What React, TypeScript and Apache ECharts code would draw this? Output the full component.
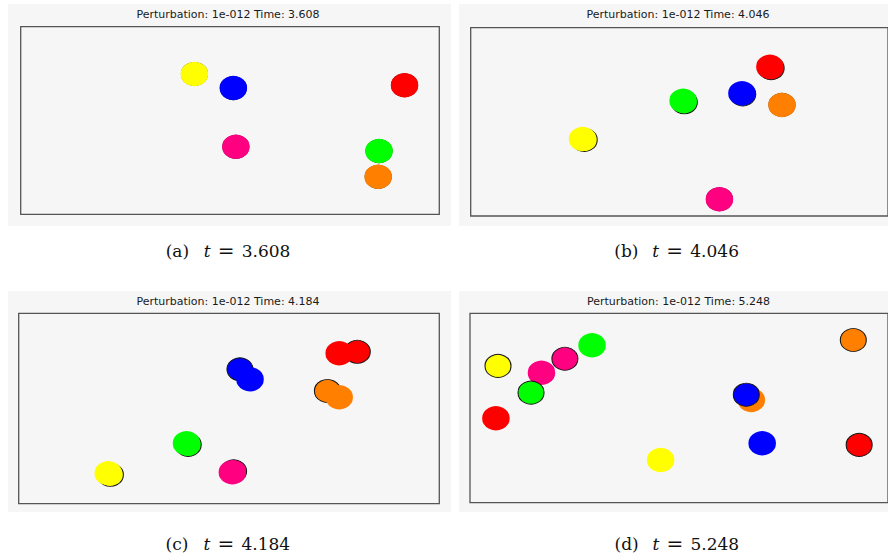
import React, { useEffect, useRef } from "react";
import * as echarts from "echarts";

// ---- data ----
const BALLS = ["red", "yellow", "magenta", "green", "orange", "blue"];
const PERTURBATION = "1e-012";
const TIMES = ["3.608", "4.046", "4.184", "5.248"];
const PANEL_LABELS = ["(a)", "(b)", "(c)", "(d)"];

// positions in box units (0..100), ball order as BALLS
const aRef = [[91.7, 68.8], [41.5, 74.8], [51.4, 36.0], [85.6, 33.7], [85.4, 20.0], [50.8, 67.3]];
const aPert = [[91.7, 68.8], [41.5, 74.8], [51.4, 36.0], [85.6, 33.7], [85.4, 20.0], [50.8, 67.3]];
const bRef = [[72.0, 78.5], [27.2, 40.4], [59.6, 8.9], [51.2, 60.4], [74.6, 59.0], [65.2, 64.6]];
const bPert = [[71.7, 79.3], [26.8, 40.9], [59.6, 8.9], [50.9, 61.2], [74.6, 59.0], [65.0, 65.2]];
const cRef = [[80.5, 79.8], [21.8, 15.2], [51.1, 17.0], [40.3, 30.9], [73.4, 59.2], [52.6, 70.6]];
const cPert = [[76.2, 79.0], [21.3, 16.0], [50.8, 16.5], [39.9, 31.7], [76.2, 55.9], [55.0, 65.3]];
const dRef = [[93.1, 30.5], [6.7, 72.2], [22.7, 76.0], [14.6, 58.1], [91.7, 85.9], [66.1, 57.0]];
const dPert = [[6.2, 44.6], [45.6, 22.5], [17.1, 68.6], [29.2, 83.1], [67.3, 54.2], [69.9, 31.4]];

const REF_RUNS = [aRef, bRef, cRef, dRef];
const PERT_RUNS = [aPert, bPert, cPert, dPert];

// ---- styles / layout ----
const BALL_COLORS: Record<string, string> = {
  red: "#ff0000",
  yellow: "#ffff00",
  magenta: "#ff0080",
  green: "#00ff00",
  orange: "#ff8000",
  blue: "#0000ff",
};
const PANEL_BG = [
  { x: 8, y: 4, w: 443, h: 222 },
  { x: 459, y: 4, w: 440, h: 222 },
  { x: 8, y: 291, w: 443, h: 221 },
  { x: 459, y: 291, w: 440, h: 221 },
];
const BOXES = [
  { left: 20.7, top: 26.7, width: 418.6, height: 187.6 },
  { left: 470.7, top: 27.7, width: 418.6, height: 188.3 },
  { left: 18.7, top: 313.3, width: 420.6, height: 190.4 },
  { left: 470, top: 313.3, width: 418.6, height: 189.4 },
];
const TITLE_POS = [
  [228, 14.5],
  [678, 14.5],
  [228, 301],
  [678.5, 301],
];
const CAPTION_POS = [
  [229.7, 251],
  [678.3, 251],
  [229.5, 543.5],
  [678.5, 543.5],
];

export default function App() {
  const ref = useRef<HTMLDivElement>(null);

  useEffect(() => {
    if (!ref.current) return;
    const chart = echarts.init(ref.current, undefined, { renderer: "svg" });

    const series: any[] = [];
    for (let p = 0; p < 4; p++) {
      BALLS.forEach((ball, i) => {
        const color = BALL_COLORS[ball];
        series.push({
          type: "scatter",
          name: `${ball} reference`,
          xAxisIndex: p,
          yAxisIndex: p,
          symbol: "circle",
          symbolSize: [26, 23],
          data: [REF_RUNS[p][i]],
          itemStyle: { color, borderColor: "#151515", borderWidth: 1, opacity: 1 },
          emphasis: { disabled: true },
        });
        series.push({
          type: "scatter",
          name: `${ball} perturbed`,
          xAxisIndex: p,
          yAxisIndex: p,
          symbol: "circle",
          symbolSize: [25, 22],
          data: [PERT_RUNS[p][i]],
          itemStyle: { color, borderColor: color, borderWidth: 2.4, opacity: 1 },
          emphasis: { disabled: true },
        });
      });
    }

    const graphic: any[] = [];
    PANEL_BG.forEach((r) => {
      graphic.push({
        type: "rect",
        z: -10,
        shape: { x: r.x, y: r.y, width: r.w, height: r.h },
        style: { fill: "#f6f6f6" },
        silent: true,
      });
    });
    TITLE_POS.forEach(([x, y], p) => {
      graphic.push({
        type: "text",
        x,
        y,
        z: 10,
        style: {
          text: `Perturbation: ${PERTURBATION} Time: ${TIMES[p]}`,
          fontFamily: "DejaVu Sans",
          fontSize: 11,
          fill: "#1a1a1a",
          align: "center",
          verticalAlign: "middle",
        },
      });
    });
    CAPTION_POS.forEach(([x, y], p) => {
      graphic.push({
        type: "text",
        x,
        y,
        z: 10,
        style: {
          text: `{lab|${PANEL_LABELS[p]}}{it|t}{eq|=}{num|${TIMES[p]}}`,
          fontFamily: "DejaVu Serif",
          fontSize: 17,
          lineHeight: 14,
          fill: "#111",
          align: "center",
          verticalAlign: "middle",
          rich: {
            lab: { fontFamily: "DejaVu Serif", fontSize: 17, lineHeight: 14, width: 38, align: "left", fill: "#111" },
            it: { fontFamily: "DejaVu Serif", fontSize: 17, lineHeight: 14, fontStyle: "italic", width: 14, align: "left", fill: "#111" },
            eq: { fontFamily: "DejaVu Serif", fontSize: 20, lineHeight: 14, width: 24, align: "left", fill: "#111" },
            num: { fontFamily: "DejaVu Serif", fontSize: 17, lineHeight: 14, width: 52, align: "left", fill: "#111" },
          },
        },
      });
    });

    chart.setOption({
      animation: false,
      backgroundColor: "#ffffff",
      grid: BOXES.map((b) => ({
        left: b.left,
        top: b.top,
        width: b.width,
        height: b.height,
        show: true,
        backgroundColor: "#f6f6f6",
        borderColor: "#555555",
        borderWidth: 1.3,
        containLabel: false,
      })),
      xAxis: BOXES.map((_, p) => ({
        type: "value",
        gridIndex: p,
        min: 0,
        max: 100,
        show: false,
      })),
      yAxis: BOXES.map((_, p) => ({
        type: "value",
        gridIndex: p,
        min: 0,
        max: 100,
        show: false,
      })),
      graphic,
      series,
    });

    return () => chart.dispose();
  }, []);

  return (
    <div
      ref={ref}
      style={{ position: "fixed", left: 0, top: 0, width: 888, height: 554 }}
    />
  );
}
